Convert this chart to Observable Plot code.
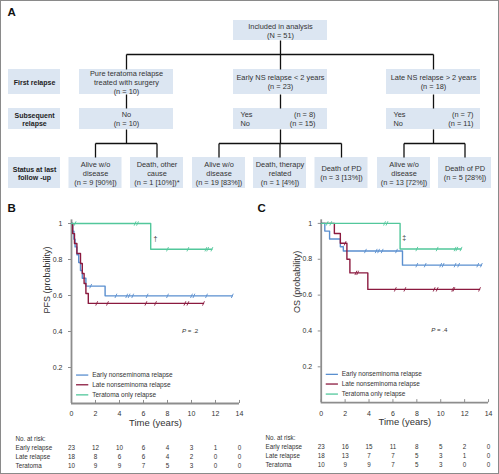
<!DOCTYPE html>
<html><head><meta charset="utf-8">
<script src="https://cdn.jsdelivr.net/npm/d3@7"></script>
<script src="https://cdn.jsdelivr.net/npm/@observablehq/plot@0.6"></script>
<style>
body{margin:0;background:#fff;}
#fig{position:relative;width:499px;height:474px;overflow:hidden;background:#fff;font-family:"Liberation Sans",Arial,sans-serif;}
.p{position:absolute;}
#frame{position:absolute;left:0;top:0;width:499px;height:474px;box-sizing:border-box;border:1.5px solid #8a8a8a;pointer-events:none;}
</style></head><body><div id="fig"><div id="frame"></div></div>
<script>
// ---------------- Panel A (flow chart) text ----------------
const rootLabel = "Included in analysis\n(N = 51)";
const rowLabels = ["First relapse", "Subsequent\nrelapse", "Status at last\nfollow -up"];
const firstRelapse = ["Pure teratoma relapse\ntreated with surgery\n(n = 10)", "Early NS relapse < 2 years\n(n = 23)", "Late NS relapse > 2 years\n(n = 18)"];
const subsequentAnswers = ["No\n(n = 10)", "Yes\nNo", "Yes\nNo"];
const subsequentCounts = [null, "(n = 8)\n(n = 15)", "(n = 7)\n(n = 11)"];
const statusLabels = ["Alive w/o\ndisease\n(n = 9 [90%])", "Death, other\ncause\n(n = 1 [10%])*", "Alive w/o\ndisease\n(n = 19 [83%])", "Death, therapy\nrelated\n(n = 1 [4%])", "Death of PD\n(n = 3 [13%])", "Alive w/o\ndisease\n(n = 13 [72%])", "Death of PD\n(n = 5 [28%])"];
const statusGroup = [0, 0, 1, 1, 1, 2, 2];

// ---------------- Panels B / C data ----------------
const seriesNames = ["Early nonseminoma relapse", "Late nonseminoma relapse", "Teratoma only relapse"];
const timeTicks = [0, 2, 4, 6, 8, 10, 12, 14];
const probTicks = [0.2, 0.4, 0.6, 0.8, 1];
const riskRows = ["Early relapse", "Late relapse", "Teratoma"];

// PFS
const pfsEarlyTimes = [0.1, 0.2, 0.3, 0.45, 0.6, 0.75, 0.9, 1.2, 2.8];
const pfsEarlySurv  = [0.957, 0.913, 0.870, 0.826, 0.783, 0.739, 0.696, 0.652, 0.598];
const pfsEarlyEnd = 13.4;
const pfsEarlyCensor = [1.6, 3.7, 4.6, 4.8, 5.1, 6.3, 8.0, 10.0, 10.2, 11.25, 13.4];
const pfsLateTimes = [0.1, 0.25, 0.45, 0.75, 0.9, 1.05, 1.2, 1.4];
const pfsLateSurv  = [0.944, 0.889, 0.833, 0.778, 0.722, 0.667, 0.611, 0.556];
const pfsLateEnd = 11.0;
const pfsLateCensor = [2.1, 3.0, 6.2, 7.0, 9.45, 9.7, 11.0];
const pfsTeraTimes = [6.6];
const pfsTeraSurv  = [0.857];
const pfsTeraEnd = 11.7;
const pfsTeraCensor = [0.3, 5.3, 5.5, 8.0, 9.7, 11.2, 11.35, 11.7];
const pfsRiskEarly = [23, 12, 10, 6, 4, 3, 1, 0];
const pfsRiskLate  = [18, 8, 6, 6, 4, 2, 0, 0];
const pfsRiskTera  = [10, 9, 9, 7, 5, 3, 0, 0];

// OS
const osEarlyTimes = [0.3, 0.7, 1.6, 1.85, 6.8];
const osEarlySurv  = [0.957, 0.913, 0.870, 0.846, 0.767];
const osEarlyEnd = 13.4;
const osEarlyCensor = [3.7, 4.6, 4.8, 5.1, 6.3, 8.0, 8.7, 10.0, 10.2, 11.2, 11.5, 13.1, 13.4];
const osLateTimes = [1.1, 1.6, 2.15, 2.4, 3.9];
const osLateSurv  = [0.944, 0.889, 0.800, 0.724, 0.632];
const osLateEnd = 13.25;
const osLateCensor = [2.0, 2.9, 3.05, 6.2, 7.0, 9.45, 9.7, 11.0, 11.1, 13.25];
const osTeraTimes = [6.6];
const osTeraSurv  = [0.857];
const osTeraEnd = 11.7;
const osTeraCensor = [0.5, 0.8, 5.3, 5.5, 8.0, 9.7, 11.2, 11.35, 11.7];
const osRiskEarly = [23, 16, 15, 11, 8, 5, 2, 0];
const osRiskLate  = [18, 13, 7, 7, 5, 3, 1, 0];
const osRiskTera  = [10, 9, 9, 7, 5, 3, 0, 0];

// ---------------- styling ----------------
const colors = ["#5a8fcf", "#8b1a3f", "#52c79b"];
const textColor = "#333";
const boxFill = "#dce6f2";
const axisGray = "#8d8d8d";
const FONT = "Liberation Sans, Arial, sans-serif";
const fig = document.getElementById("fig");
function place(node, left, top) {
  const d = document.createElement("div");
  d.className = "p"; d.style.left = left + "px"; d.style.top = top + "px";
  d.appendChild(node); fig.insertBefore(d, document.getElementById("frame"));
}

// ---------------- Panel A ----------------
(function () {
  const L = {
    rootY: [20, 40], rowsY: [[69, 94], [108, 129], [157, 188]], labelX: [8, 60],
    groupX: [126, 280, 433], groupW: 94,
    leafX: [95, 156.5, 218.5, 279.5, 341, 403.5, 464.5], leafW: 53,
    rootJoin: 54, leafJoin: 143, padL: [0, 7, 7], padR: [0, 12, 7]
  };
  const mid = r => (r[0] + r[1]) / 2;
  const boxes = [], texts = [], segs = [];
  const cx = L.groupX[1];
  boxes.push({x1: cx - L.groupW / 2, x2: cx + L.groupW / 2, y1: L.rootY[0], y2: L.rootY[1]});
  texts.push({x: cx, y: mid(L.rootY), text: rootLabel, anchor: "middle", bold: false});
  rowLabels.forEach((t, i) => {
    boxes.push({x1: L.labelX[0], x2: L.labelX[1], y1: L.rowsY[i][0], y2: L.rowsY[i][1]});
    texts.push({x: mid(L.labelX), y: mid(L.rowsY[i]), text: t, anchor: "middle", bold: true});
  });
  L.groupX.forEach((gx, g) => {
    for (let r = 0; r < 2; r++) {
      boxes.push({x1: gx - L.groupW / 2, x2: gx + L.groupW / 2, y1: L.rowsY[r][0], y2: L.rowsY[r][1]});
    }
    texts.push({x: gx, y: mid(L.rowsY[0]), text: firstRelapse[g], anchor: "middle", bold: false});
    if (subsequentCounts[g] == null) {
      texts.push({x: gx, y: mid(L.rowsY[1]), text: subsequentAnswers[g], anchor: "middle", bold: false});
    } else {
      texts.push({x: gx - L.groupW / 2 + L.padL[g], y: mid(L.rowsY[1]), text: subsequentAnswers[g], anchor: "start", bold: false});
      texts.push({x: gx + L.groupW / 2 - L.padR[g], y: mid(L.rowsY[1]), text: subsequentCounts[g], anchor: "end", bold: false});
    }
    segs.push({x1: gx, y1: L.rootJoin, x2: gx, y2: L.rowsY[0][0]});
    segs.push({x1: gx, y1: L.rowsY[0][1], x2: gx, y2: L.rowsY[1][0]});
    segs.push({x1: gx, y1: L.rowsY[1][1], x2: gx, y2: L.leafJoin});
    const kids = L.leafX.filter((_, i) => statusGroup[i] === g);
    segs.push({x1: d3.min(kids), y1: L.leafJoin, x2: d3.max(kids), y2: L.leafJoin});
  });
  segs.push({x1: cx, y1: L.rootY[1], x2: cx, y2: L.rootJoin});
  segs.push({x1: d3.min(L.groupX), y1: L.rootJoin, x2: d3.max(L.groupX), y2: L.rootJoin});
  statusLabels.forEach((t, i) => {
    const lx = L.leafX[i];
    boxes.push({x1: lx - L.leafW / 2, x2: lx + L.leafW / 2, y1: L.rowsY[2][0], y2: L.rowsY[2][1]});
    texts.push({x: lx, y: mid(L.rowsY[2]), text: t, anchor: "middle", bold: false});
    segs.push({x1: lx, y1: L.leafJoin, x2: lx, y2: L.rowsY[2][0]});
  });
  const txtOpts = {x: "x", y: "y", text: "text", fill: textColor, fontSize: 7.4, lineHeight: 1.18, lineAnchor: "middle"};
  const plot = Plot.plot({
    width: 499, height: 200, margin: 0,
    x: {domain: [0, 499], range: [0, 499], axis: null},
    y: {domain: [0, 200], range: [0, 200], axis: null},
    style: {background: "transparent", fontFamily: FONT, overflow: "visible"},
    marks: [
      Plot.rect(boxes, {x1: "x1", x2: "x2", y1: "y1", y2: "y2", fill: boxFill}),
      Plot.link(segs, {x1: "x1", y1: "y1", x2: "x2", y2: "y2", stroke: "#111", strokeWidth: 1.3}),
      Plot.text(texts.filter(d => !d.bold && d.anchor === "middle"), {...txtOpts, textAnchor: "middle"}),
      Plot.text(texts.filter(d => d.anchor === "start"), {...txtOpts, textAnchor: "start"}),
      Plot.text(texts.filter(d => d.anchor === "end"), {...txtOpts, textAnchor: "end"}),
      Plot.text(texts.filter(d => d.bold), {...txtOpts, fontSize: 7, fontWeight: "bold", fill: "#222"}),
      Plot.text(["A"], {frameAnchor: "top-left", dx: 7, dy: 12, fontSize: 11.5, fontWeight: "bold", textAnchor: "start", lineAnchor: "middle", fill: "#111"})
    ]
  });
  place(plot, 0, 0);
})();

// ---------------- Panels B / C ----------------
function stepPoints(times, surv, end) {
  const pts = [{t: 0, s: 1}];
  times.forEach((t, i) => pts.push({t, s: surv[i]}));
  pts.push({t: end, s: surv[surv.length - 1]});
  return pts;
}
function censorPoints(times, surv, cens) {
  return cens.map(t => {
    let s = 1;
    times.forEach((tt, i) => { if (tt <= t) s = surv[i]; });
    return {t, s};
  });
}
function kmPlot(cfg) {
  const marks = [
    Plot.ruleX([0], {y1: 0, y2: 1.02, stroke: axisGray, strokeWidth: 1.8}),
    Plot.ruleY([0], {x1: 0, x2: 14, stroke: axisGray, strokeWidth: 1.8}),
    Plot.axisY({ticks: probTicks, tickFormat: d => d === 1 ? "1" : d.toFixed(1), tickSize: 3, tickPadding: 6, stroke: axisGray, fill: textColor, label: null, fontSize: 7}),
    Plot.axisX({ticks: timeTicks, tickSize: 0, tickPadding: 8, label: null, fill: textColor, fontSize: 7}),
    Plot.ruleX(timeTicks, {y1: 0, y2: 0.017, stroke: axisGray})
  ];
  cfg.series.forEach((sr, i) => {
    marks.push(Plot.line(stepPoints(sr.times, sr.surv, sr.end), {x: "t", y: "s", curve: "step-after", stroke: colors[i], strokeWidth: 1.4}));
    marks.push(Plot.link(censorPoints(sr.times, sr.surv, sr.censor), {
      x1: d => d.t - 0.08, x2: d => d.t + 0.08, y1: d => d.s - 0.012, y2: d => d.s + 0.012,
      stroke: colors[i], strokeWidth: 0.9
    }));
  });
  const legY = [0.158, 0.104, 0.048];
  seriesNames.forEach((name, i) => {
    marks.push(Plot.ruleY([legY[i]], {x1: 0.42, x2: 1.44, stroke: colors[i], strokeWidth: 1.3}));
    marks.push(Plot.text([name], {x: 1.72, y: legY[i], textAnchor: "start", fontSize: 6.5, fill: textColor}));
  });
  marks.push(
    Plot.text([cfg.yLabel], {frameAnchor: "left", dx: -24, rotate: -90, fontSize: 9, fill: textColor}),
    Plot.text(["Time (years)"], {frameAnchor: "bottom", dy: 22, fontSize: 9.5, fill: textColor}),
    Plot.text(["P"], {x: 9.55, y: 0.405, textAnchor: "end", fontStyle: "italic", fontSize: 6.2, fill: textColor}),
    Plot.text([" = " + cfg.p], {x: 9.55, y: 0.405, textAnchor: "start", fontSize: 6.2, fill: textColor}),
    Plot.text([cfg.mark], {x: cfg.markX, y: 0.918, fontSize: 7, fill: textColor}),
    Plot.text([cfg.letter], {frameAnchor: "top-left", dx: -64, dy: -15, fontSize: 11.5, fontWeight: "bold", textAnchor: "start", lineAnchor: "middle", fill: "#111"})
  );
  return Plot.plot({
    width: 250, height: 232, marginLeft: 71, marginRight: 11, marginTop: 23, marginBottom: 29,
    x: {domain: [0, 14]}, y: {domain: [0, 1]},
    style: {background: "transparent", fontFamily: FONT, overflow: "visible", color: textColor},
    marks
  });
}
function riskPlot(rows) {
  const data = [];
  rows.forEach((vals, r) => vals.forEach((n, j) => data.push({row: riskRows[r], t: timeTicks[j], n})));
  const header = "No. at risk:";
  return Plot.plot({
    width: 250, height: 44, marginLeft: 71, marginRight: 11, marginTop: 0, marginBottom: 0,
    x: {domain: [0, 14], range: [71, 239], axis: null},
    y: {type: "point", domain: [header, ...riskRows], range: [7, 36.5], padding: 0, axis: null},
    style: {background: "transparent", fontFamily: FONT, overflow: "visible"},
    marks: [
      Plot.text([header, ...riskRows], {y: d => d, frameAnchor: "left", dx: -56, textAnchor: "start", fontSize: 6.3, fill: textColor}),
      Plot.text(data, {x: "t", y: "row", text: d => String(d.n), fontSize: 6.3, fill: textColor})
    ]
  });
}

place(kmPlot({
  letter: "B", yLabel: "PFS (probability)", p: ".2", mark: "†", markX: 7.0,
  series: [
    {times: pfsEarlyTimes, surv: pfsEarlySurv, end: pfsEarlyEnd, censor: pfsEarlyCensor},
    {times: pfsLateTimes, surv: pfsLateSurv, end: pfsLateEnd, censor: pfsLateCensor},
    {times: pfsTeraTimes, surv: pfsTeraSurv, end: pfsTeraEnd, censor: pfsTeraCensor}
  ]
}), 0, 200);
place(riskPlot([pfsRiskEarly, pfsRiskLate, pfsRiskTera]), 0, 430);

place(kmPlot({
  letter: "C", yLabel: "OS (probability)", p: ".4", mark: "‡", markX: 6.95,
  series: [
    {times: osEarlyTimes, surv: osEarlySurv, end: osEarlyEnd, censor: osEarlyCensor},
    {times: osLateTimes, surv: osLateSurv, end: osLateEnd, censor: osLateCensor},
    {times: osTeraTimes, surv: osTeraSurv, end: osTeraEnd, censor: osTeraCensor}
  ]
}), 250, 200);
place(riskPlot([osRiskEarly, osRiskLate, osRiskTera]), 250, 430);
</script>
</body></html>
